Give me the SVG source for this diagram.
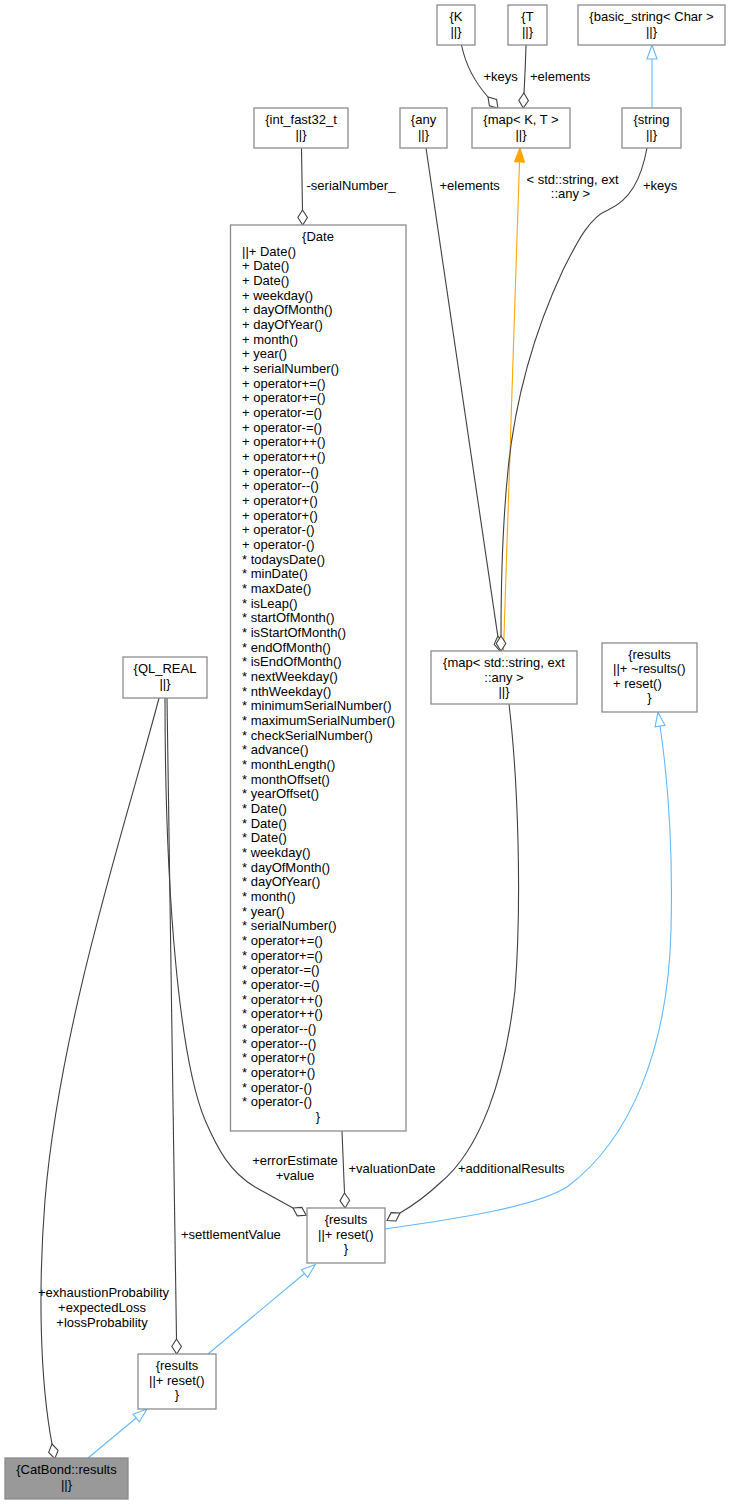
<svg xmlns="http://www.w3.org/2000/svg" width="731" height="1504" viewBox="0 0 731 1504">
<style>
text{font-family:"Liberation Sans",Arial,Helvetica,sans-serif;font-size:13px;fill:#000}
.c{text-anchor:middle}
.node rect{fill:#fff;stroke:#8c8c8c;stroke-width:1.3}
.node rect.gray{fill:#999999}
.e{fill:none;stroke:#404040;stroke-width:1.1}
.inh{fill:none;stroke:#63b8ff;stroke-width:1.1}
.tm{fill:none;stroke:#ffa500;stroke-width:1.1}
</style>
<defs>
<marker id="dia" markerUnits="userSpaceOnUse" markerWidth="16" markerHeight="12" refX="0" refY="6" orient="auto" style="overflow:visible">
<path d="M0,6 L7.5,1.2 L15,6 L7.5,10.8 Z" fill="#fff" stroke="#404040" stroke-width="1.1"/>
</marker>
<marker id="tri" markerUnits="userSpaceOnUse" markerWidth="16" markerHeight="12" refX="0" refY="6" orient="auto" style="overflow:visible">
<path d="M0,1 L14,6 L0,11 Z" fill="#fff" stroke="#63b8ff" stroke-width="1.1"/>
</marker>
<marker id="otri" markerUnits="userSpaceOnUse" markerWidth="16" markerHeight="12" refX="0" refY="6" orient="auto" style="overflow:visible">
<path d="M0,1 L14,6 L0,11 Z" fill="#ffa500" stroke="#ffa500" stroke-width="1.1"/>
</marker>
</defs>

<g id="edges">
<path class="e" d="M461.5,45 C465,62 472,79 488,97" marker-end="url(#dia)"/>
<text x="483.5" y="80.5">+keys</text>
<path class="e" d="M526,45 C525.6,60 524.8,78 524,93" marker-end="url(#dia)"/>
<text x="530" y="80.5">+elements</text>
<path class="inh" d="M652,108 L652,59" marker-end="url(#tri)"/>
<path class="e" d="M301.5,148 C301.8,170 302.2,192 302.5,210" marker-end="url(#dia)"/>
<text x="306.5" y="189.5">-serialNumber_</text>
<path class="e" d="M426,148 L497.8,636.2" marker-end="url(#dia)"/>
<text x="439.5" y="189.5">+elements</text>
<path class="tm" d="M503.5,651 L519.5,162" marker-end="url(#otri)"/>
<text class="c" x="572.5" y="183.5">&lt; std::string, ext</text>
<text class="c" x="570.5" y="197.5">::any &gt;</text>
<path class="e" d="M647,148 C641,180 630,200 608,210 C590,217 578,240 563,270 C535,330 515,400 508,470 C503,520 501,580 501,636" marker-end="url(#dia)"/>
<text x="643" y="189.5">+keys</text>

<path class="e" d="M165,698 C165,900 180,1060 205,1120 C218,1150 230,1172 255,1187 L293,1208" marker-end="url(#dia)"/>
<text class="c" x="295" y="1165">+errorEstimate</text>
<text class="c" x="295" y="1179.5">+value</text>
<path class="e" d="M167,698 L176.5,1339" marker-end="url(#dia)"/>
<text x="181" y="1238.5">+settlementValue</text>
<path class="e" d="M159,698 C130,810 60,1020 45,1200 C38,1290 40,1380 52,1444" marker-end="url(#dia)"/>
<text class="c" x="103.5" y="1296.5">+exhaustionProbability</text>
<text class="c" x="102" y="1311.5">+expectedLoss</text>
<text class="c" x="102" y="1326.5">+lossProbability</text>
<path class="e" d="M342,1131 L344.5,1193" marker-end="url(#dia)"/>
<text x="348.5" y="1172.5">+valuationDate</text>
<path class="e" d="M509,704 C518,780 522,900 515,990 C505,1080 480,1150 440,1183 C425,1197 412,1206 400,1213" marker-end="url(#dia)"/>
<text x="458" y="1172.5">+additionalResults</text>
<path class="inh" d="M385,1229 C430,1222 530,1210 567,1187 C630,1140 668,1050 671,930 C673,850 668,780 660,726" marker-end="url(#tri)"/>
<path class="inh" d="M208,1354 L304.5,1273.5" marker-end="url(#tri)"/>
<path class="inh" d="M88,1458 L136.2,1418" marker-end="url(#tri)"/>
</g>

<g id="node-K" class="node"><rect x="437" y="5" width="38" height="40"/><text class="c" x="456" y="21">{K</text><text class="c" x="456" y="35.5">||}</text></g>
<g id="node-T" class="node"><rect x="508" y="5" width="39" height="40"/><text class="c" x="527.5" y="21">{T</text><text class="c" x="527.5" y="35.5">||}</text></g>
<g id="node-basic_string" class="node"><rect x="578" y="5" width="147" height="40"/><text class="c" x="651.5" y="21">{basic_string&lt; Char &gt;</text><text class="c" x="651.5" y="35.5">||}</text></g>
<g id="node-int_fast32_t" class="node"><rect x="254" y="108" width="94" height="40"/><text class="c" x="301" y="124">{int_fast32_t</text><text class="c" x="301" y="138.5">||}</text></g>
<g id="node-any" class="node"><rect x="400" y="108" width="47" height="40"/><text class="c" x="423.5" y="124">{any</text><text class="c" x="423.5" y="138.5">||}</text></g>
<g id="node-mapKT" class="node"><rect x="472" y="108" width="98" height="40"/><text class="c" x="521" y="124">{map&lt; K, T &gt;</text><text class="c" x="521" y="138.5">||}</text></g>
<g id="node-string" class="node"><rect x="622" y="108" width="59" height="40"/><text class="c" x="651.5" y="124">{string</text><text class="c" x="651.5" y="138.5">||}</text></g>

<g id="node-Date" class="node"><rect x="230.5" y="225" width="175.5" height="906"/>
<text class="c" x="318" y="241">{Date</text>
<text x="242" y="241"><tspan x="242" dy="14.667">||+ Date()</tspan><tspan x="242" dy="14.667">+ Date()</tspan><tspan x="242" dy="14.667">+ Date()</tspan><tspan x="242" dy="14.667">+ weekday()</tspan><tspan x="242" dy="14.667">+ dayOfMonth()</tspan><tspan x="242" dy="14.667">+ dayOfYear()</tspan><tspan x="242" dy="14.667">+ month()</tspan><tspan x="242" dy="14.667">+ year()</tspan><tspan x="242" dy="14.667">+ serialNumber()</tspan><tspan x="242" dy="14.667">+ operator+=()</tspan><tspan x="242" dy="14.667">+ operator+=()</tspan><tspan x="242" dy="14.667">+ operator-=()</tspan><tspan x="242" dy="14.667">+ operator-=()</tspan><tspan x="242" dy="14.667">+ operator++()</tspan><tspan x="242" dy="14.667">+ operator++()</tspan><tspan x="242" dy="14.667">+ operator--()</tspan><tspan x="242" dy="14.667">+ operator--()</tspan><tspan x="242" dy="14.667">+ operator+()</tspan><tspan x="242" dy="14.667">+ operator+()</tspan><tspan x="242" dy="14.667">+ operator-()</tspan><tspan x="242" dy="14.667">+ operator-()</tspan><tspan x="242" dy="14.667">* todaysDate()</tspan><tspan x="242" dy="14.667">* minDate()</tspan><tspan x="242" dy="14.667">* maxDate()</tspan><tspan x="242" dy="14.667">* isLeap()</tspan><tspan x="242" dy="14.667">* startOfMonth()</tspan><tspan x="242" dy="14.667">* isStartOfMonth()</tspan><tspan x="242" dy="14.667">* endOfMonth()</tspan><tspan x="242" dy="14.667">* isEndOfMonth()</tspan><tspan x="242" dy="14.667">* nextWeekday()</tspan><tspan x="242" dy="14.667">* nthWeekday()</tspan><tspan x="242" dy="14.667">* minimumSerialNumber()</tspan><tspan x="242" dy="14.667">* maximumSerialNumber()</tspan><tspan x="242" dy="14.667">* checkSerialNumber()</tspan><tspan x="242" dy="14.667">* advance()</tspan><tspan x="242" dy="14.667">* monthLength()</tspan><tspan x="242" dy="14.667">* monthOffset()</tspan><tspan x="242" dy="14.667">* yearOffset()</tspan><tspan x="242" dy="14.667">* Date()</tspan><tspan x="242" dy="14.667">* Date()</tspan><tspan x="242" dy="14.667">* Date()</tspan><tspan x="242" dy="14.667">* weekday()</tspan><tspan x="242" dy="14.667">* dayOfMonth()</tspan><tspan x="242" dy="14.667">* dayOfYear()</tspan><tspan x="242" dy="14.667">* month()</tspan><tspan x="242" dy="14.667">* year()</tspan><tspan x="242" dy="14.667">* serialNumber()</tspan><tspan x="242" dy="14.667">* operator+=()</tspan><tspan x="242" dy="14.667">* operator+=()</tspan><tspan x="242" dy="14.667">* operator-=()</tspan><tspan x="242" dy="14.667">* operator-=()</tspan><tspan x="242" dy="14.667">* operator++()</tspan><tspan x="242" dy="14.667">* operator++()</tspan><tspan x="242" dy="14.667">* operator--()</tspan><tspan x="242" dy="14.667">* operator--()</tspan><tspan x="242" dy="14.667">* operator+()</tspan><tspan x="242" dy="14.667">* operator+()</tspan><tspan x="242" dy="14.667">* operator-()</tspan><tspan x="242" dy="14.667">* operator-()</tspan></text>
<text class="c" x="318" y="1121">}</text>
</g>

<g id="node-QL_REAL" class="node"><rect x="123" y="657" width="84" height="41"/><text class="c" x="165" y="673">{QL_REAL</text><text class="c" x="165" y="687.5">||}</text></g>
<g id="node-map_string_any" class="node"><rect x="431" y="651" width="146" height="53"/><text class="c" x="504" y="667">{map&lt; std::string, ext</text><text class="c" x="504" y="681.5">::any &gt;</text><text class="c" x="504" y="696">||}</text></g>
<g id="node-results-base" class="node"><rect x="602" y="643" width="95" height="69"/><text class="c" x="649.5" y="658.5">{results</text><text x="613" y="673">||+ ~results()</text><text x="613" y="687.5">+ reset()</text><text class="c" x="649.5" y="702">}</text></g>
<g id="node-results-mid" class="node"><rect x="307" y="1208" width="78" height="55"/><text class="c" x="346" y="1224">{results</text><text x="318" y="1238.5">||+ reset()</text><text class="c" x="346" y="1253">}</text></g>
<g id="node-results-low" class="node"><rect x="138" y="1354" width="78" height="55"/><text class="c" x="177" y="1370">{results</text><text x="149" y="1384.5">||+ reset()</text><text class="c" x="177" y="1399">}</text></g>
<g id="node-CatBond-results" class="node"><rect class="gray" x="5" y="1458" width="123" height="41"/><text class="c" x="66.5" y="1474">{CatBond::results</text><text class="c" x="66.5" y="1488.5">||}</text></g>
</svg>
